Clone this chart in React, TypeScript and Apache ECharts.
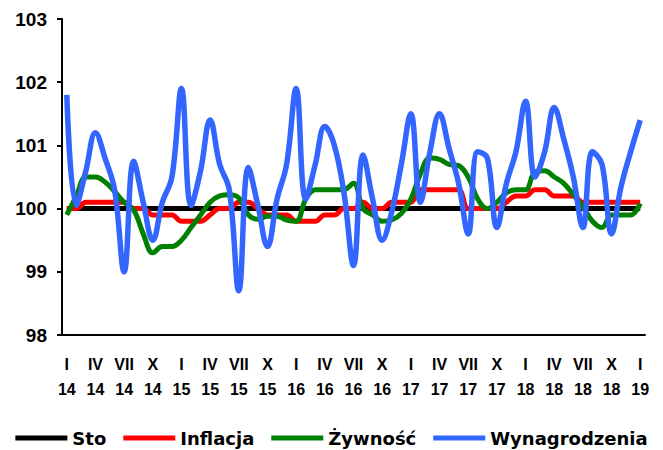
import React, { useEffect, useRef } from "react";
import * as echarts from "echarts";

const categories: string[] = [
  "I\n14", "II\n14", "III\n14", "IV\n14", "V\n14", "VI\n14", "VII\n14", "VIII\n14", "IX\n14", "X\n14", "XI\n14", "XII\n14",
  "I\n15", "II\n15", "III\n15", "IV\n15", "V\n15", "VI\n15", "VII\n15", "VIII\n15", "IX\n15", "X\n15", "XI\n15", "XII\n15",
  "I\n16", "II\n16", "III\n16", "IV\n16", "V\n16", "VI\n16", "VII\n16", "VIII\n16", "IX\n16", "X\n16", "XI\n16", "XII\n16",
  "I\n17", "II\n17", "III\n17", "IV\n17", "V\n17", "VI\n17", "VII\n17", "VIII\n17", "IX\n17", "X\n17", "XI\n17", "XII\n17",
  "I\n18", "II\n18", "III\n18", "IV\n18", "V\n18", "VI\n18", "VII\n18", "VIII\n18", "IX\n18", "X\n18", "XI\n18", "XII\n18",
  "I\n19",
];

const sto: number[] = [
  100, 100, 100, 100, 100, 100, 100, 100, 100, 100, 100, 100,
  100, 100, 100, 100, 100, 100, 100, 100, 100, 100, 100, 100,
  100, 100, 100, 100, 100, 100, 100, 100, 100, 100, 100, 100,
  100, 100, 100, 100, 100, 100, 100, 100, 100, 100, 100, 100,
  100, 100, 100, 100, 100, 100, 100, 100, 100, 100, 100, 100,
  100,
];

const inflacja: number[] = [
  100.0, 100.0, 100.1, 100.1, 100.1, 100.1, 100.1, 100.0, 100.0, 99.9, 99.9, 99.9,
  99.8, 99.8, 99.8, 99.9, 100.0, 100.0, 100.1, 100.1, 100.0, 99.9, 99.9, 99.9,
  99.8, 99.8, 99.8, 99.9, 99.9, 100.0, 100.0, 100.1, 100.0, 100.0, 100.1, 100.1,
  100.1, 100.3, 100.3, 100.3, 100.3, 100.3, 100.0, 100.0, 100.0, 100.0, 100.1, 100.2,
  100.2, 100.3, 100.3, 100.2, 100.2, 100.2, 100.1, 100.1, 100.1, 100.1, 100.1, 100.1,
  100.1,
];

const zywnosc: number[] = [
  99.9, 100.2, 100.5, 100.5, 100.42, 100.27, 100.1, 99.98, 99.6, 99.3, 99.4, 99.4,
  99.5, 99.7, 99.9, 100.1, 100.2, 100.22, 100.17, 99.9, 99.83, 99.88, 99.88, 99.82,
  99.8, 100.15, 100.3, 100.3, 100.3, 100.3, 100.4, 100.0, 99.9, 99.8, 99.82, 99.92,
  100.15, 100.55, 100.8, 100.78, 100.7, 100.68, 100.5, 100.15, 100.0, 100.1, 100.25, 100.3,
  100.3, 100.58, 100.6, 100.5, 100.4, 100.22, 100.03, 99.8, 99.7, 99.9, 99.9, 99.9,
  100.08,
];

const wynagrodzenia: number[] = [
  101.8, 100.05, 100.6, 101.2, 100.8, 100.3, 99.0, 100.75, 100.1, 99.5, 100.1, 100.5,
  101.9, 100.05, 100.6, 101.4, 100.7, 100.3, 98.7, 100.65, 100.05, 99.4, 100.15, 100.7,
  101.9, 100.15, 100.7, 101.3, 101.0, 100.25, 99.1, 100.85, 100.15, 99.5, 99.95, 100.7,
  101.5, 100.1, 100.9, 101.5, 100.95, 100.4, 99.6, 100.9, 100.8, 99.7, 100.4, 100.9,
  101.7, 100.5, 100.9, 101.6, 101.1, 100.5, 99.7, 100.9, 100.7, 99.6, 100.35, 100.9,
  101.4,
];

const seriesNames = ["Sto", "Inflacja", "Żywność", "Wynagrodzenia"];
const seriesColors = ["#000000", "#FF0000", "#008000", "#3366FF"];

const ARIAL = "Arial, 'Liberation Sans', sans-serif";

export default function App() {
  const ref = useRef<HTMLDivElement>(null);
  useEffect(() => {
    if (!ref.current) return;
    const chart = echarts.init(ref.current, null, { renderer: "svg" });
    const dataSets = [sto, inflacja, zywnosc, wynagrodzenia];
    chart.setOption({
      animation: false,
      backgroundColor: "#ffffff",
      grid: { left: 62, right: 18, top: 19, bottom: 115, containLabel: false },
      legend: {
        top: 424,
        left: "center",
        icon: "rect",
        itemWidth: 52,
        itemHeight: 5,
        itemGap: 17,
        textStyle: {
          fontFamily: "'DejaVu Sans', sans-serif",
          fontWeight: "bold",
          fontSize: 18,
          color: "#000",
        },
        data: seriesNames,
      },
      xAxis: {
        type: "category",
        data: categories,
        boundaryGap: true,
        axisLine: { lineStyle: { color: "#000", width: 2 } },
        axisTick: { interval: 2, length: 5, lineStyle: { color: "#000", width: 2 } },
        axisLabel: {
          interval: 2,
          margin: 17,
          fontFamily: ARIAL,
          fontWeight: "bold",
          fontSize: 16,
          lineHeight: 25,
          color: "#000",
        },
        splitLine: { show: false },
      },
      yAxis: {
        type: "value",
        min: 98,
        max: 103,
        interval: 1,
        axisLine: { show: true, lineStyle: { color: "#000", width: 2 } },
        axisTick: { show: true, length: 5, lineStyle: { color: "#000", width: 2 } },
        axisLabel: {
          margin: 15,
          fontFamily: ARIAL,
          fontWeight: "bold",
          fontSize: 19,
          color: "#000",
        },
        splitLine: { show: false },
      },
      series: seriesNames.map((name, i) => ({
        name,
        type: "line",
        data: dataSets[i],
        smooth: i === 0 ? false : 0.4,
        symbol: "none",
        color: seriesColors[i],
        lineStyle: { color: seriesColors[i], width: i === 3 ? 5.5 : 5 },
        z: 2 + i,
      })),
    });
    return () => chart.dispose();
  }, []);
  return (
    <div
      ref={ref}
      style={{ position: "fixed", left: 0, top: 0, width: 663, height: 450 }}
    />
  );
}
